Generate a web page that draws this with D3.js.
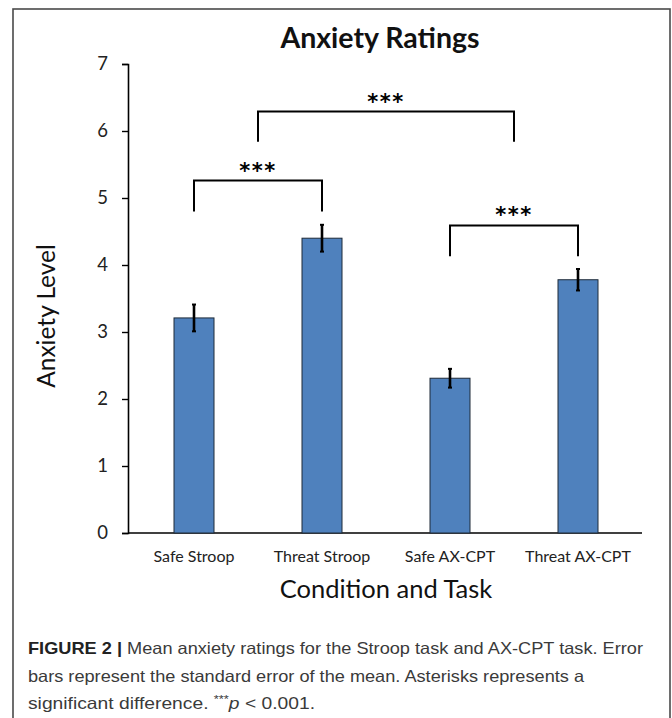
<!DOCTYPE html>
<html>
<head>
<meta charset="utf-8">
<script src="https://cdn.jsdelivr.net/npm/d3@7"></script>
<style>
  html, body { margin: 0; padding: 0; background: #fff; }
  svg { display: block; }
</style>
</head>
<body>
<svg id="chart" width="672" height="718"></svg>
<script>
// Mean anxiety ratings per condition/task with standard errors
const categories = ["Safe Stroop", "Threat Stroop", "Safe AX-CPT", "Threat AX-CPT"];
const means = [3.21, 4.40, 2.31, 3.78];
const sems = [0.20, 0.20, 0.14, 0.16];
const yTicks = [0, 1, 2, 3, 4, 5, 6, 7];

// Significance comparisons: groups of bars joined by a bracket, bracket height and leg bottom in rating units
const compLeft = [[0], [2], [0, 1]];
const compRight = [[1], [3], [2, 3]];
const compTop = [5.26, 4.59, 6.29];
const compLegEnd = [4.80, 4.13, 5.84];
const compLabel = ["***", "***", "***"];

const captionLines = [
  [{ t: "FIGURE 2 | ", b: true }, { t: "Mean anxiety ratings for the Stroop task and AX-CPT task. Error" }],
  [{ t: "bars represent the standard error of the mean. Asterisks represents a" }],
  [{ t: "significant difference. " }, { t: "***" , sup: true}, { t: "p", i: true }, { t: " < 0.001." }]
];

const svg = d3.select("#chart");
const chartFont = "Lato, 'Open Sans', sans-serif";

// Figure frame
svg.append("rect")
  .attr("x", 13).attr("y", 9)
  .attr("width", 657).attr("height", 730)
  .attr("fill", "none").attr("stroke", "#4a4a4a").attr("stroke-width", 1.6);

const x = d3.scaleBand().domain(categories).range([130, 642])
  .paddingInner(0.6875).paddingOuter(0.34375);
const y = d3.scaleLinear().domain([0, 7]).range([533, 64]);

// Title
svg.append("text")
  .attr("x", 380).attr("y", 48)
  .attr("text-anchor", "middle")
  .attr("font-family", chartFont).attr("font-weight", 700)
  .attr("font-size", 28.5).attr("fill", "#111")
  .text("Anxiety Ratings");

// Y axis
const yAxis = d3.axisLeft(y).tickValues(yTicks).tickSize(6).tickPadding(14).tickFormat(d3.format("d"));
const gy = svg.append("g").attr("transform", "translate(128,0)").call(yAxis);
gy.select(".domain").attr("stroke", "#000").attr("stroke-width", 1.6);
gy.selectAll(".tick line").attr("stroke", "#000").attr("stroke-width", 1.4);
gy.selectAll(".tick text").attr("font-family", chartFont).attr("font-size", 18.5).attr("fill", "#222");

// X axis
const xAxis = d3.axisBottom(x).tickSize(0).tickPadding(18);
const gx = svg.append("g").attr("transform", "translate(0,533)").call(xAxis);
gx.select(".domain").attr("stroke", "#000").attr("stroke-width", 1.6).attr("d", "M128,0H642");
gx.selectAll(".tick text").attr("font-family", chartFont).attr("font-size", 16).attr("fill", "#222");

// Bars
svg.append("g").selectAll("rect").data(categories).join("rect")
  .attr("x", d => x(d))
  .attr("y", (d, i) => y(means[i]))
  .attr("width", x.bandwidth())
  .attr("height", (d, i) => y(0) - y(means[i]))
  .attr("fill", "#4F81BD").attr("stroke", "#1e2a38").attr("stroke-width", 1);

// Error bars
const eb = svg.append("g").attr("stroke", "#000");
categories.forEach((c, i) => {
  const cx = x(c) + x.bandwidth() / 2;
  eb.append("line").attr("x1", cx).attr("x2", cx)
    .attr("y1", y(means[i] + sems[i])).attr("y2", y(means[i] - sems[i]))
    .attr("stroke-width", 2.6);
  [means[i] + sems[i], means[i] - sems[i]].forEach(v => {
    eb.append("line").attr("x1", cx - 2).attr("x2", cx + 2)
      .attr("y1", y(v)).attr("y2", y(v)).attr("stroke-width", 2);
  });
});

// Significance brackets
const center = idx => d3.mean(idx, k => x(categories[k]) + x.bandwidth() / 2);
const br = svg.append("g");
compTop.forEach((top, k) => {
  const x1 = center(compLeft[k]);
  const x2 = center(compRight[k]);
  br.append("path")
    .attr("d", `M${x1},${y(compLegEnd[k])}V${y(top)}H${x2}V${y(compLegEnd[k])}`)
    .attr("fill", "none").attr("stroke", "#000").attr("stroke-width", 2);
  br.append("text")
    .attr("x", (x1 + x2) / 2).attr("y", y(top) - 3)
    .attr("text-anchor", "middle")
    .attr("font-family", "'DejaVu Sans', sans-serif").attr("font-weight", 700)
    .attr("font-size", 21).attr("letter-spacing", 1.5).attr("fill", "#000")
    .text(compLabel[k]);
});

// Axis titles
svg.append("text")
  .attr("transform", "translate(55,316) rotate(-90)")
  .attr("text-anchor", "middle")
  .attr("font-family", chartFont).attr("font-size", 24.5).attr("fill", "#111")
  .text("Anxiety Level");

svg.append("text")
  .attr("x", 386).attr("y", 598)
  .attr("text-anchor", "middle")
  .attr("font-family", chartFont).attr("font-size", 25.5).attr("fill", "#111")
  .text("Condition and Task");

// Caption
const capWidths = [615, 556, 287];
captionLines.forEach((parts, li) => {
  const t = svg.append("text")
    .attr("x", 28).attr("y", 654 + li * 27.5)
    .attr("font-family", "'Liberation Sans', Arial, sans-serif")
    .attr("font-size", 16.5).attr("fill", "#3a3a3a")
    .attr("textLength", capWidths[li]).attr("lengthAdjust", "spacingAndGlyphs");
  parts.forEach(p => {
    const ts = t.append("tspan").text(p.t);
    if (p.b) ts.attr("font-weight", 700).attr("fill", "#222");
    if (p.i) ts.attr("font-style", "italic");
    if (p.sup) ts.attr("font-size", 11).attr("dy", -6);
    if (p.t === "p") ts.attr("dy", 6);
  });
});
</script>
</body>
</html>
